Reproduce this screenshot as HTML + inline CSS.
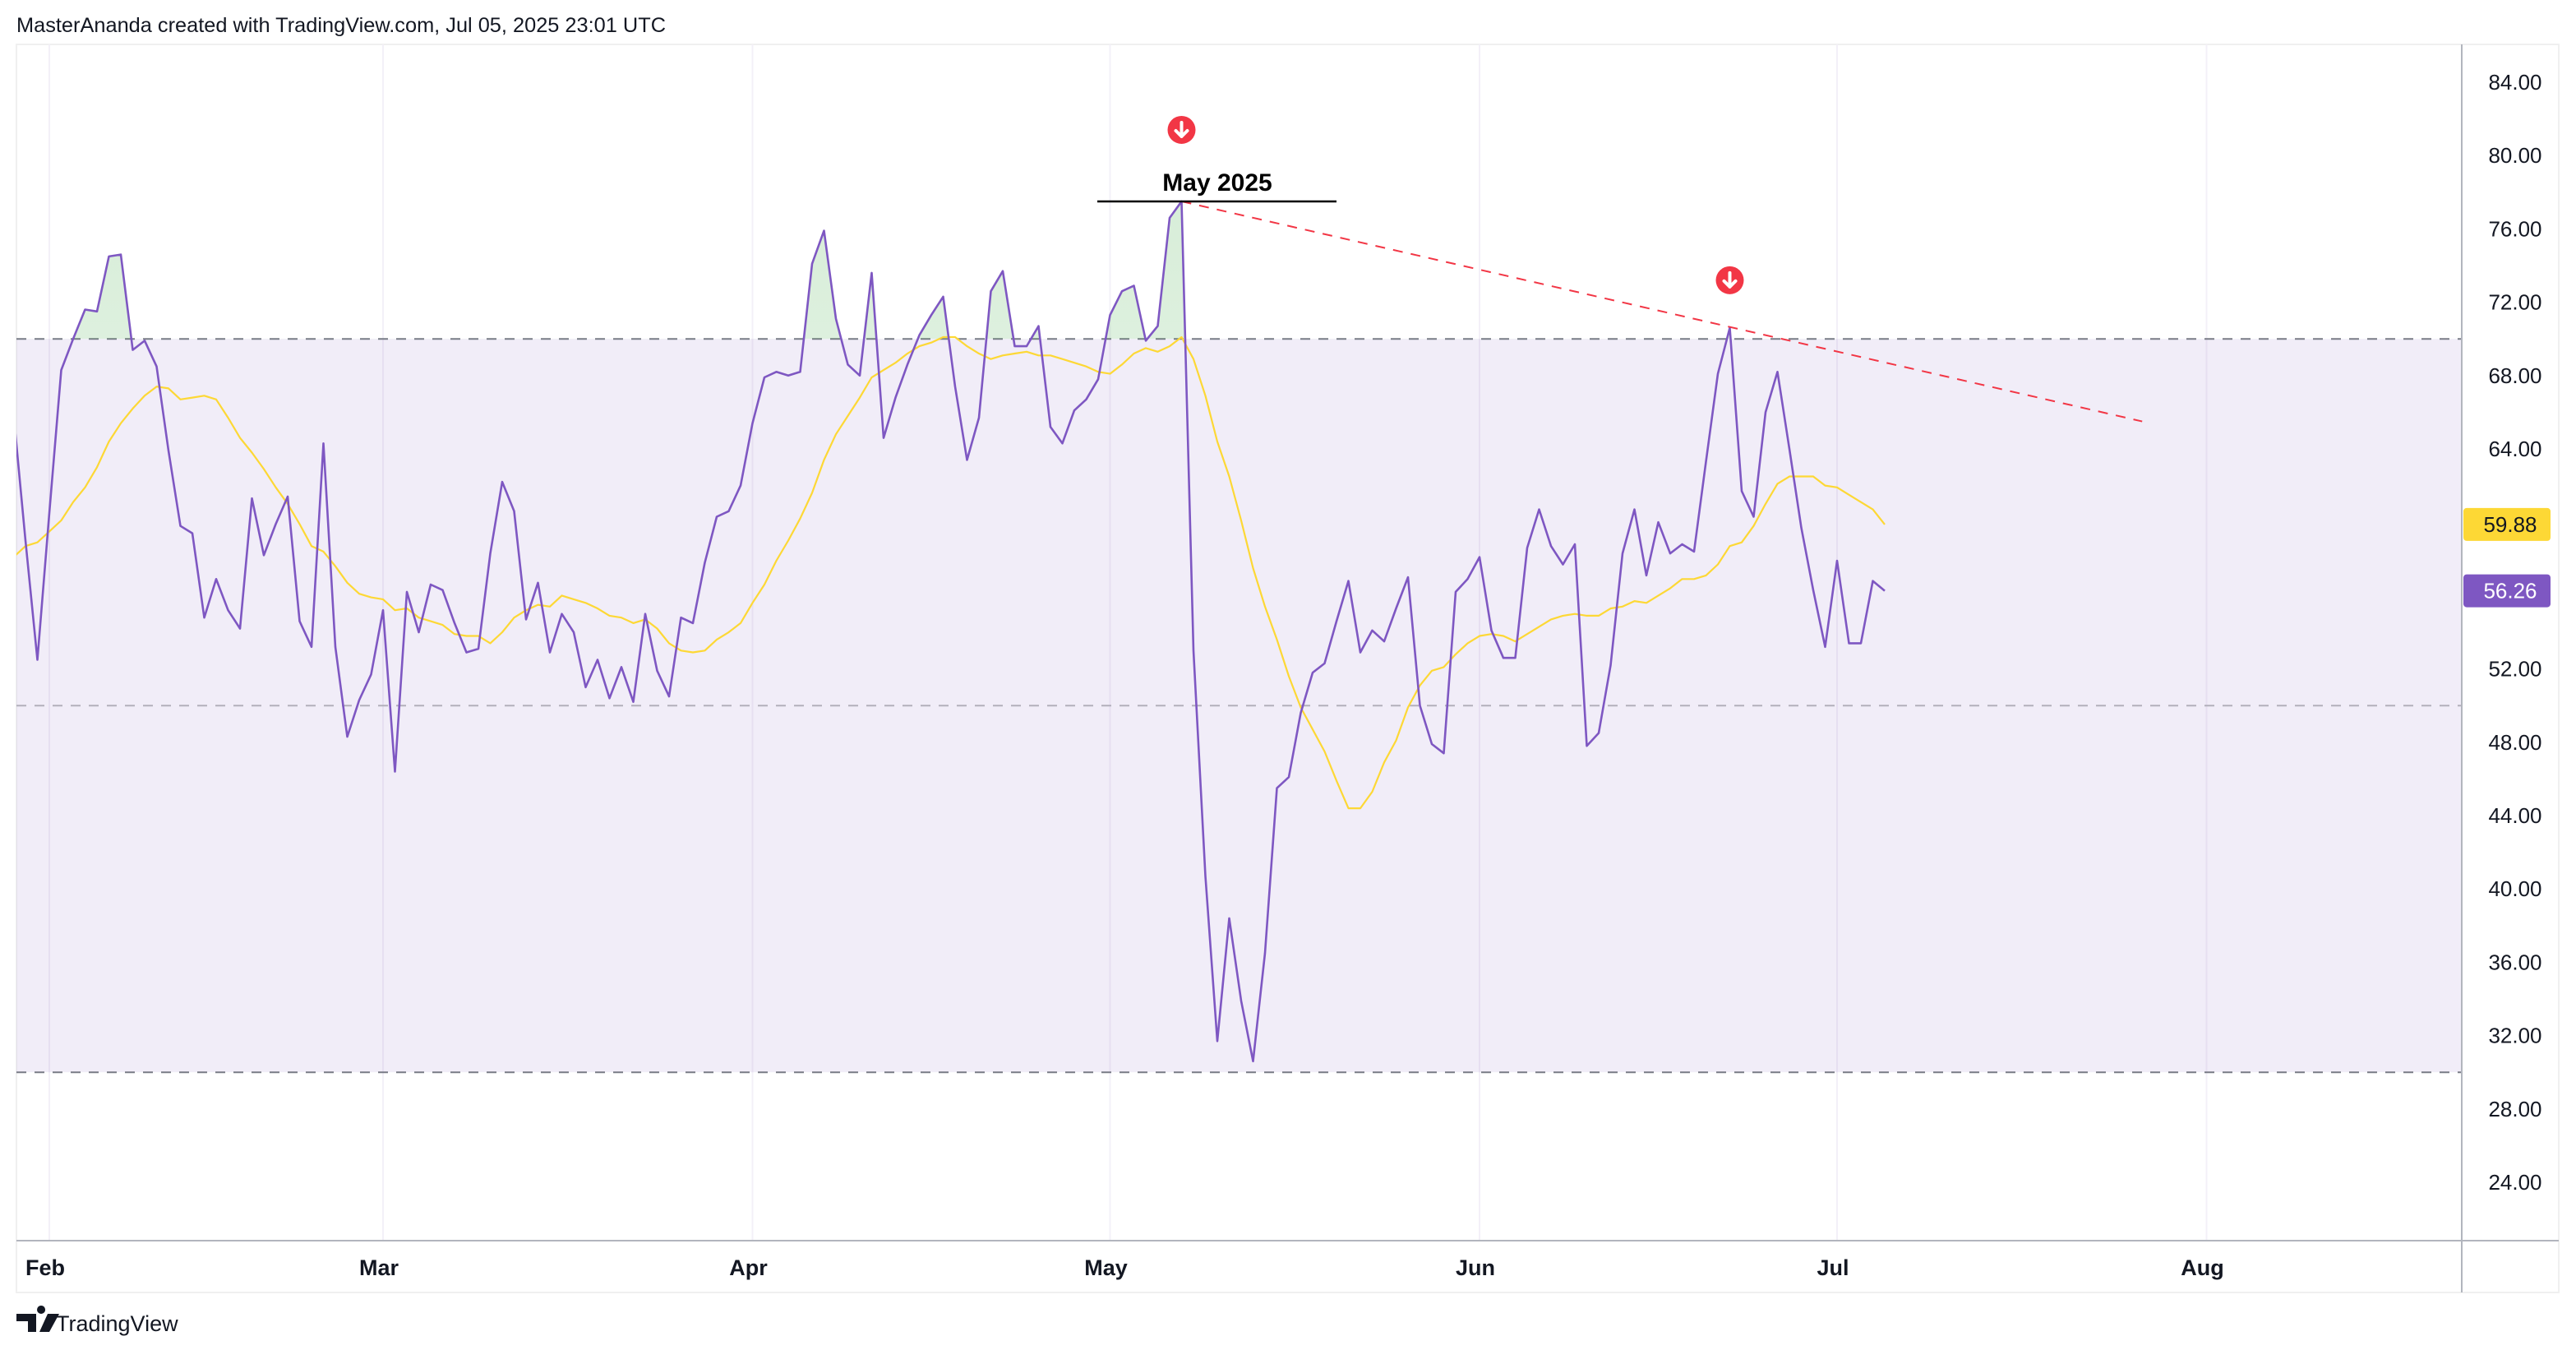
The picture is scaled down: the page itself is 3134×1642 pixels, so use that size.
<!DOCTYPE html>
<html><head><meta charset="utf-8"><style>
html,body{margin:0;padding:0;background:#fff;}
svg{display:block;font-family:"Liberation Sans",sans-serif;}
</style></head><body>
<svg id="chart" width="3134" height="1642" viewBox="0 0 3134 1642" xmlns="http://www.w3.org/2000/svg">
<defs>
<linearGradient id="obg" x1="0" y1="0" x2="0" y2="1">
<stop offset="0" stop-color="#4caf50" stop-opacity="0.22"/>
<stop offset="1" stop-color="#4caf50" stop-opacity="0.02"/>
</linearGradient>
<clipPath id="above70"><rect id="clipRect" x="20" y="54" width="2975" height="361"/></clipPath>
<clipPath id="plotClip"><rect x="20" y="54" width="2975" height="1455"/></clipPath>
</defs>
<text x="20" y="39" font-size="25" fill="#131722" textLength="790" lengthAdjust="spacingAndGlyphs">MasterAnanda created with TradingView.com, Jul 05, 2025 23:01 UTC</text>
<rect x="20" y="54" width="3093" height="1518" fill="none" stroke="#f0f0f0" stroke-width="2"/>
<g id="grid"></g>
<rect id="band" fill="#7e57c2" fill-opacity="0.11"/>
<g id="levels"></g>
<g id="series" clip-path="url(#plotClip)"></g>
<g id="annot"></g>
<line x1="2995" y1="54" x2="2995" y2="1572" stroke="#b2b5be" stroke-width="2"/>
<line x1="20" y1="1509" x2="3113" y2="1509" stroke="#b2b5be" stroke-width="2"/>
<g id="yaxis"></g>
<g id="xaxis"></g>
<g>
<path d="M20 1598h24v22h-10v-13h-14z M50 1598a5 5 0 1 1 0.1 0z M58 1598h14l-12 22h-12z" fill="#131722"/>
<text x="68" y="1619" font-size="27" fill="#131722">TradingView</text>
</g>
</svg>
<script>
const rsiValues = [65.9,59,52.5,60.5,68.3,70,71.6,71.5,74.5,74.6,69.4,69.9,68.5,63.9,59.8,59.4,54.8,56.9,55.2,54.2,61.3,58.2,59.9,61.4,54.6,53.2,64.3,53.2,48.3,50.3,51.7,55.2,46.4,56.2,54.0,56.6,56.3,54.5,52.9,53.1,
58.3,62.2,60.6,54.7,56.7,52.9,55,54,51,52.5,50.4,52.1,50.2,55,51.9,50.5,54.8,54.5,57.8,60.3,60.6,62,65.4,67.9,68.2,68,68.2,74.1,75.9,71.1,68.6,68,73.6,64.6,66.8,68.6,70.2,71.3,72.3,67.4,
63.4,65.7,72.6,73.7,69.6,69.6,70.7,65.2,64.3,66.1,66.7,67.8,71.3,72.6,72.9,69.9,70.7,76.6,77.5,53.0,40.7,31.7,38.4,33.9,30.6,36.5,45.5,46.1,49.6,51.8,52.3,54.6,56.8,52.9,54.1,53.5,55.3,57,50,47.9,47.4,
56.2,56.9,58.1,54.1,52.6,52.6,58.6,60.7,58.7,57.7,58.8,47.8,48.5,52.2,58.3,60.7,57.1,60,58.3,58.8,58.4,63.3,68.1,70.6,61.7,60.3,66,68.2,64,59.7,56.3,53.2,57.9,53.4,53.4,56.8,56.26];
const maValues = [58.1,58.7,58.9,59.5,60.1,61.1,61.9,63.0,64.4,65.4,66.2,66.9,67.4,67.3,66.7,66.8,66.9,66.7,65.7,64.6,63.8,62.9,61.9,61.0,59.9,58.7,58.4,57.6,56.7,56.1,55.9,55.8,55.2,55.3,54.8,54.6,54.4,53.9,53.8,53.8,
53.4,54.0,54.8,55.2,55.5,55.4,56.0,55.8,55.6,55.3,54.9,54.8,54.5,54.7,54.2,53.4,53.0,52.9,53.0,53.6,54.0,54.5,55.6,56.6,57.9,59.0,60.2,61.6,63.4,64.8,65.8,66.8,67.9,68.3,68.7,69.2,69.6,69.8,70.1,70.1,
69.6,69.2,68.9,69.1,69.2,69.3,69.1,69.1,68.9,68.7,68.5,68.2,68.1,68.6,69.2,69.5,69.3,69.6,70.1,68.9,66.9,64.4,62.5,60.1,57.5,55.4,53.6,51.6,49.9,48.7,47.5,45.9,44.4,44.4,45.3,46.9,48.1,49.9,51.1,51.9,52.1,
52.8,53.4,53.8,53.9,53.8,53.5,53.9,54.3,54.7,54.9,55.0,54.9,54.9,55.3,55.4,55.7,55.6,56.0,56.4,56.9,56.9,57.1,57.7,58.7,58.9,59.8,61.0,62.1,62.5,62.5,62.5,62.0,61.9,61.5,61.1,60.7,59.88];
const yTicks = [84,80,76,72,68,64,60,56,52,48,44,40,36,32,28,24];
const monthLabels = ["Feb","Mar","Apr","May","Jun","Jul","Aug"];
const monthDayIndex = [3,31,62,92,123,153,184];
const levelValues = [70,50,30];
const trendStart = [98,77.5];
const trendEnd = [178.6,65.5];
const signalIdx = [98,144];
const signalValue = [81.4,73.2];

const NS="http://www.w3.org/2000/svg";
const X0=16.5, DX=14.5, Y0=100, DY=22.3;
function xs(i){return X0+i*DX;}
function ys(v){return Y0+(84-v)*DY;}
function mk(tag,attrs,parent){const e=document.createElementNS(NS,tag);for(const k in attrs)e.setAttribute(k,attrs[k]);parent.appendChild(e);return e;}

const grid=document.getElementById('grid');
monthDayIndex.forEach((d,i)=>{const l=mk('line',{x1:xs(d),x2:xs(d),y1:54,y2:1509,stroke:'#f3f0f8','stroke-width':2},grid);

});

const band=document.getElementById('band');
band.setAttribute('x',20);band.setAttribute('width',2975);
band.setAttribute('y',ys(70));band.setAttribute('height',ys(30)-ys(70));
document.getElementById('clipRect').setAttribute('height',ys(70)-54);

const lv=document.getElementById('levels');
levelValues.forEach(v=>{const l=mk('line',{x1:20,x2:2995,y1:ys(v),y2:ys(v),stroke:v===50?'#b2b0bb':'#787b86','stroke-width':2,'stroke-dasharray':'12 10'},lv);

});

const ser=document.getElementById('series');
const rsiPts=rsiValues.map((v,i)=>xs(i).toFixed(1)+','+ys(v).toFixed(1));
const fill=mk('polygon',{points:xs(0)+','+ys(70)+' '+rsiPts.join(' ')+' '+xs(rsiValues.length-1)+','+ys(70),fill:'url(#obg)','clip-path':'url(#above70)'},ser);


const ma=mk('polyline',{points:maValues.map((v,i)=>xs(i).toFixed(1)+','+ys(v).toFixed(1)).join(' '),fill:'none',stroke:'#fdd835','stroke-width':2.2,'stroke-linejoin':'round'},ser);


const rsi=mk('polyline',{points:rsiPts.join(' '),fill:'none',stroke:'#7e57c2','stroke-width':2.6,'stroke-linejoin':'round'},ser);



const an=document.getElementById('annot');
const tl=mk('line',{x1:xs(trendStart[0]),y1:ys(trendStart[1]),x2:xs(trendEnd[0]),y2:ys(trendEnd[1]),stroke:'#f23645','stroke-width':2,'stroke-dasharray':'12 10'},an);


const hl=mk('line',{x1:1335,x2:1626,y1:ys(trendStart[1]),y2:ys(trendStart[1]),stroke:'#000','stroke-width':2.5},an);


const mt=mk('text',{x:1481,y:ys(trendStart[1])-13,'font-size':30,'font-weight':'bold','text-anchor':'middle',fill:'#000'},an);
mt.textContent='May 2025';


signalIdx.forEach((d,i)=>{const g=mk('g',{},an);


const cx=xs(d),cy=ys(signalValue[i]);
mk('circle',{cx:cx,cy:cy,r:17,fill:'#f23645'},g);
mk('path',{d:`M${cx} ${cy-9}V${cy+8}M${cx-7} ${cy+1}L${cx} ${cy+8}L${cx+7} ${cy+1}`,stroke:'#fff','stroke-width':4,fill:'none','stroke-linecap':'round','stroke-linejoin':'round'},g);});

const ya=document.getElementById('yaxis');
yTicks.forEach(v=>{const t=mk('text',{x:3060,y:ys(v)+9,'font-size':26,'text-anchor':'middle',fill:'#131722'},ya);
t.textContent=v.toFixed(2);

});
function tag(v,bg,fg,name){const g=mk('g',{},ya);


mk('rect',{x:2997,y:ys(v)-20,width:106,height:40,rx:4,fill:bg},g);
const t=mk('text',{x:3054,y:ys(v)+9,'font-size':26,'text-anchor':'middle',fill:fg},g);t.textContent=v.toFixed(2);}
tag(maValues[maValues.length-1],'#fdd835','#131722','ma-value-tag');
tag(rsiValues[rsiValues.length-1],'#7e57c2','#ffffff','rsi-value-tag');

const xa=document.getElementById('xaxis');
monthLabels.forEach((m,i)=>{const t=mk('text',{x:xs(monthDayIndex[i])-5,y:1551,'font-size':27,'font-weight':'bold','text-anchor':'middle',fill:'#131722'},xa);
t.textContent=m;

});
</script>
</body></html>
